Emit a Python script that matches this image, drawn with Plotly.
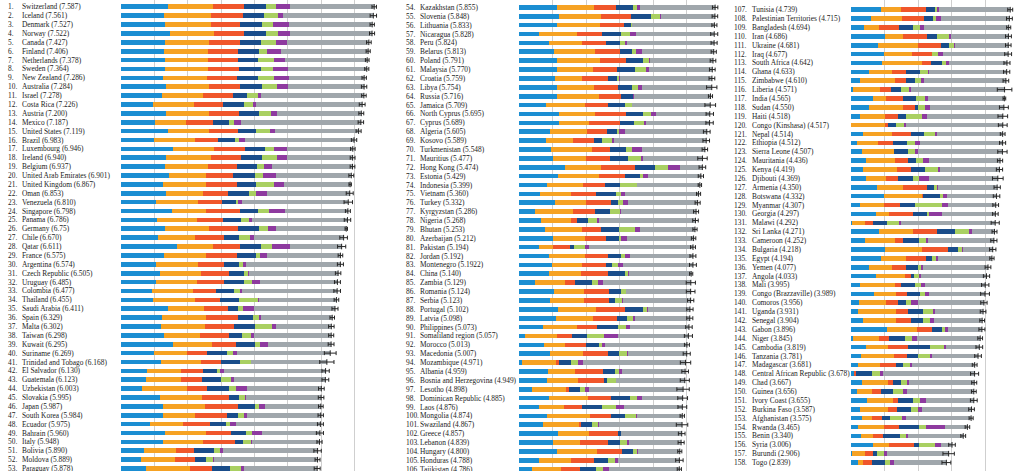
import plotly.graph_objects as go

countries = [
    "Switzerland", "Iceland", "Denmark", "Norway", "Canada", "Finland", "Netherlands", "Sweden", "New Zealand", "Australia",
    "Israel", "Costa Rica", "Austria", "Mexico", "United States", "Brazil", "Luxembourg", "Ireland", "Belgium", "United Arab Emirates",
    "United Kingdom", "Oman", "Venezuela", "Singapore", "Panama", "Germany", "Chile", "Qatar", "France", "Argentina",
    "Czech Republic", "Uruguay", "Colombia", "Thailand", "Saudi Arabia", "Spain", "Malta", "Taiwan", "Kuwait", "Suriname",
    "Trinidad and Tobago", "El Salvador", "Guatemala", "Uzbekistan", "Slovakia", "Japan", "South Korea", "Ecuador", "Bahrain", "Italy",
    "Bolivia", "Moldova", "Paraguay",
    "Kazakhstan", "Slovenia", "Lithuania", "Nicaragua", "Peru", "Belarus", "Poland", "Malaysia", "Croatia", "Libya",
    "Russia", "Jamaica", "North Cyprus", "Cyprus", "Algeria", "Kosovo", "Turkmenistan", "Mauritius", "Hong Kong", "Estonia",
    "Indonesia", "Vietnam", "Turkey", "Kyrgyzstan", "Nigeria", "Bhutan", "Azerbaijan", "Pakistan", "Jordan", "Montenegro",
    "China", "Zambia", "Romania", "Serbia", "Portugal", "Latvia", "Philippines", "Somaliland region", "Morocco", "Macedonia",
    "Mozambique", "Albania", "Bosnia and Herzegovina", "Lesotho", "Dominican Republic", "Laos", "Mongolia", "Swaziland", "Greece", "Lebanon",
    "Hungary", "Honduras", "Tajikistan",
    "Tunisia", "Palestinian Territories", "Bangladesh", "Iran", "Ukraine", "Iraq", "South Africa", "Ghana", "Zimbabwe", "Liberia",
    "India", "Sudan", "Haiti", "Congo (Kinshasa)", "Nepal", "Ethiopia", "Sierra Leone", "Mauritania", "Kenya", "Djibouti",
    "Armenia", "Botswana", "Myanmar", "Georgia", "Malawi", "Sri Lanka", "Cameroon", "Bulgaria", "Egypt", "Yemen",
    "Angola", "Mali", "Congo (Brazzaville)", "Comoros", "Uganda", "Senegal", "Gabon", "Niger", "Cambodia", "Tanzania",
    "Madagascar", "Central African Republic", "Chad", "Guinea", "Ivory Coast", "Burkina Faso", "Afghanistan", "Rwanda", "Benin", "Syria",
    "Burundi", "Togo",
]

score_labels = [
    "7.587", "7.561", "7.527", "7.522", "7.427", "7.406", "7.378", "7.364", "7.286", "7.284",
    "7.278", "7.226", "7.200", "7.187", "7.119", "6.983", "6.946", "6.940", "6.937", "6.901",
    "6.867", "6.853", "6.810", "6.798", "6.786", "6.75", "6.670", "6.611", "6.575", "6.574",
    "6.505", "6.485", "6.477", "6.455", "6.411", "6.329", "6.302", "6.298", "6.295", "6.269",
    "6.168", "6.130", "6.123", "6.003", "5.995", "5.987", "5.984", "5.975", "5.960", "5.948",
    "5.890", "5.889", "5.878",
    "5.855", "5.848", "5.833", "5.828", "5.824", "5.813", "5.791", "5.770", "5.759", "5.754",
    "5.716", "5.709", "5.695", "5.689", "5.605", "5.589", "5.548", "5.477", "5.474", "5.429",
    "5.399", "5.360", "5.332", "5.286", "5.268", "5.253", "5.212", "5.194", "5.192", "5.1922",
    "5.140", "5.129", "5.124", "5.123", "5.102", "5.098", "5.073", "5.057", "5.013", "5.007",
    "4.971", "4.959", "4.949", "4.898", "4.885", "4.876", "4.874", "4.867", "4.857", "4.839",
    "4.800", "4.788", "4.786",
    "4.739", "4.715", "4.694", "4.686", "4.681", "4.677", "4.642", "4.633", "4.610", "4.571",
    "4.565", "4.550", "4.518", "4.517", "4.514", "4.512", "4.507", "4.436", "4.419", "4.369",
    "4.350", "4.332", "4.307", "4.297", "4.292", "4.271", "4.252", "4.218", "4.194", "4.077",
    "4.033", "3.995", "3.989", "3.956", "3.931", "3.904", "3.896", "3.845", "3.819", "3.781",
    "3.681", "3.678", "3.667", "3.656", "3.655", "3.587", "3.575", "3.465", "3.340", "3.006",
    "2.906", "2.839",
]

gdp = [
    1.39651, 1.30232, 1.32548, 1.45900, 1.32629, 1.29025, 1.32944, 1.33171, 1.25018, 1.33358,
    1.22857, 0.95578, 1.33723, 1.02054, 1.39451, 0.98124, 1.56391, 1.33596, 1.30782, 1.42727,
    1.26637, 1.36011, 1.04424, 1.52186, 1.06353, 1.32792, 1.10715, 1.69042, 1.27778, 1.05351,
    1.17898, 1.06166, 0.91861, 0.96690, 1.39541, 1.23011, 1.20740, 1.29098, 1.55422, 0.99534,
    1.21183, 0.76454, 0.74553, 0.63244, 1.16891, 1.27074, 1.24461, 0.86402, 1.32376, 1.25114,
    0.68133, 0.59448, 0.75985,
    1.12254, 1.18498, 1.14723, 0.59325, 0.90019, 1.03192, 1.12555, 1.12486, 1.08254, 1.13145,
    1.13764, 0.81038, 1.20806, 1.20813, 0.93929, 0.80148, 0.95847, 1.00761, 1.38604, 1.15174,
    0.82827, 0.63216, 1.06098, 0.47428, 0.65435, 0.77042, 1.02389, 0.59543, 0.90198, 0.97438,
    0.89012, 0.47038, 1.04345, 0.92053, 1.15991, 1.11312, 0.70532, 0.18847, 0.73479, 0.91851,
    0.08308, 0.87867, 0.83223, 0.37545, 0.89537, 0.59066, 0.82819, 0.71206, 1.15406, 1.02564,
    1.12094, 0.59532, 0.39047,
    0.88113, 0.59867, 0.39753, 1.00761, 0.79907, 0.98549, 0.92049, 0.54558, 0.27100, 0.07120,
    0.64499, 0.52107, 0.26673, 0.00000, 0.35997, 0.19073, 0.33024, 0.45407, 0.36471, 0.44025,
    0.76821, 0.99355, 0.27108, 0.74190, 0.01604, 0.83524, 0.42250, 1.01216, 0.88180, 0.54649,
    0.75778, 0.26074, 0.67866, 0.23906, 0.21102, 0.36498, 1.06024, 0.06940, 0.46038, 0.28520,
    0.20824, 0.07850, 0.34193, 0.17417, 0.46534, 0.25812, 0.31982, 0.22208, 0.28665, 0.66320,
    0.01530, 0.20868,
]

social_support = [
    1.34951, 1.40223, 1.36058, 1.33095, 1.32261, 1.31826, 1.28017, 1.28907, 1.31967, 1.30923,
    1.22393, 1.23788, 1.29704, 0.91451, 1.24711, 1.23287, 1.21963, 1.36948, 1.28566, 1.12575,
    1.28548, 1.08182, 1.25596, 1.02000, 1.19850, 1.29937, 1.12447, 1.07860, 1.26038, 1.24823,
    1.20643, 1.20890, 1.24018, 1.26504, 1.08393, 1.31379, 1.30203, 1.07617, 1.16594, 0.97200,
    1.18354, 1.02507, 1.04356, 1.34043, 1.26999, 1.25712, 0.95774, 0.99903, 1.21624, 1.19777,
    0.97841, 1.01528, 1.30477,
    1.12241, 1.27385, 1.25745, 1.14184, 0.97459, 1.23289, 1.27948, 1.07023, 0.79624, 1.11862,
    1.23617, 1.15102, 1.07008, 0.89318, 1.07772, 0.81198, 1.22668, 0.98521, 1.05818, 1.22791,
    1.08708, 0.91226, 0.94632, 1.15115, 0.90432, 1.10395, 0.93793, 0.41411, 1.05392, 0.90557,
    0.94675, 0.91612, 0.88588, 1.00964, 1.13935, 1.09562, 1.03516, 0.95152, 0.64095, 1.00232,
    1.02626, 0.80434, 0.91916, 1.04103, 1.17202, 0.73803, 1.30060, 1.07284, 0.92933, 0.80001,
    1.20215, 0.95348, 0.85563,
    0.60429, 0.92558, 0.43106, 0.54447, 1.20278, 0.81889, 1.18468, 0.67954, 1.03276, 0.78968,
    0.38174, 1.01404, 0.74302, 1.00120, 0.86449, 0.60406, 0.95571, 0.86908, 0.99876, 0.59207,
    0.77711, 1.10464, 0.70905, 0.38562, 0.41134, 1.01905, 0.88767, 1.10614, 0.74700, 0.68093,
    0.86040, 1.03526, 0.66290, 0.79273, 1.13299, 0.97619, 0.90528, 0.77265, 0.62736, 1.00268,
    0.66801, 0.00000, 0.76062, 0.46475, 0.77115, 0.85188, 0.30285, 0.77370, 0.35386, 0.47489,
    0.41587, 0.13995,
]

life_expectancy = [
    0.94143, 0.94784, 0.87464, 0.88521, 0.90563, 0.88911, 0.89284, 0.91087, 0.90837, 0.93156,
    0.91387, 0.86027, 0.89042, 0.81444, 0.86179, 0.69702, 0.91894, 0.89533, 0.89667, 0.80925,
    0.90943, 0.76276, 0.72052, 1.02525, 0.79661, 0.89186, 0.85857, 0.79733, 0.94579, 0.78723,
    0.84483, 0.81160, 0.69077, 0.73850, 0.72025, 0.95562, 0.88721, 0.87530, 0.72492, 0.60820,
    0.61483, 0.67737, 0.64425, 0.59772, 0.78902, 0.99111, 0.96538, 0.79075, 0.74716, 0.95446,
    0.53920, 0.61826, 0.66098,
    0.64368, 0.87337, 0.73128, 0.74314, 0.73017, 0.73608, 0.77903, 0.72394, 0.78805, 0.70380,
    0.66926, 0.68741, 0.92356, 0.92356, 0.61766, 0.63132, 0.53886, 0.70950, 1.01328, 0.77361,
    0.63793, 0.74676, 0.73172, 0.65088, 0.16007, 0.57407, 0.64045, 0.51466, 0.69639, 0.72521,
    0.81658, 0.29924, 0.76890, 0.74836, 0.87519, 0.72437, 0.58114, 0.43873, 0.60954, 0.73545,
    0.09131, 0.81325, 0.79081, 0.07612, 0.66825, 0.54909, 0.60268, 0.07566, 0.88213, 0.83947,
    0.75905, 0.69510, 0.57379,
    0.73793, 0.66015, 0.60164, 0.69805, 0.67390, 0.60237, 0.27688, 0.40132, 0.33475, 0.34201,
    0.51529, 0.36878, 0.38847, 0.09806, 0.56874, 0.44055, 0.00000, 0.35874, 0.41435, 0.36291,
    0.72990, 0.04776, 0.48246, 0.72926, 0.22562, 0.70806, 0.23402, 0.76649, 0.61712, 0.40064,
    0.16683, 0.20583, 0.31051, 0.36315, 0.33861, 0.43540, 0.43372, 0.29707, 0.61114, 0.38215,
    0.46721, 0.06699, 0.15010, 0.24009, 0.15185, 0.27125, 0.30335, 0.42864, 0.31910, 0.72193,
    0.22396, 0.28443,
]

freedom = [
    0.66557, 0.62877, 0.64938, 0.66973, 0.63297, 0.64169, 0.61576, 0.65980, 0.63938, 0.65124,
    0.41319, 0.63376, 0.62433, 0.48181, 0.54604, 0.49049, 0.61583, 0.61777, 0.58450, 0.64157,
    0.59625, 0.63274, 0.42908, 0.54252, 0.54210, 0.61477, 0.44132, 0.64040, 0.55011, 0.44974,
    0.46364, 0.60362, 0.53466, 0.55664, 0.31048, 0.45951, 0.60365, 0.39740, 0.55499, 0.59657,
    0.55884, 0.40350, 0.57733, 0.65821, 0.31751, 0.49615, 0.33208, 0.48574, 0.45492, 0.26236,
    0.57414, 0.32818, 0.53899,
    0.51649, 0.60855, 0.21342, 0.55475, 0.41496, 0.37938, 0.53122, 0.53024, 0.25883, 0.41668,
    0.36679, 0.50442, 0.49027, 0.40672, 0.28579, 0.24749, 0.47610, 0.56066, 0.59608, 0.44888,
    0.46611, 0.59444, 0.22815, 0.43477, 0.34334, 0.53206, 0.37030, 0.12102, 0.40661, 0.18260,
    0.51697, 0.48827, 0.35068, 0.20107, 0.51469, 0.29671, 0.62545, 0.46582, 0.41691, 0.33457,
    0.34037, 0.35733, 0.09245, 0.31767, 0.57672, 0.59591, 0.43626, 0.30658, 0.07699, 0.33916,
    0.32112, 0.40148, 0.47216,
    0.26268, 0.24499, 0.40820, 0.30033, 0.25123, 0.00000, 0.33207, 0.42342, 0.25861, 0.28531,
    0.39786, 0.10081, 0.24425, 0.22605, 0.38282, 0.43450, 0.40840, 0.24232, 0.42215, 0.46074,
    0.19847, 0.49495, 0.44017, 0.40577, 0.43054, 0.53726, 0.49309, 0.30587, 0.17288, 0.35571,
    0.10384, 0.38857, 0.41466, 0.22917, 0.45727, 0.36772, 0.31914, 0.47692, 0.66246, 0.32878,
    0.19184, 0.48879, 0.23501, 0.37725, 0.46866, 0.39493, 0.23414, 0.59201, 0.48450, 0.15684,
    0.11850, 0.36453,
]

generosity = [
    0.29678, 0.43630, 0.34139, 0.34699, 0.45811, 0.23351, 0.47610, 0.36262, 0.47501, 0.43562,
    0.33172, 0.25497, 0.33088, 0.14074, 0.40105, 0.14574, 0.28034, 0.45901, 0.22250, 0.26428,
    0.51912, 0.21542, 0.05841, 0.31105, 0.24434, 0.28214, 0.33363, 0.32573, 0.12332, 0.11451,
    0.10686, 0.23553, 0.18401, 0.57630, 0.13706, 0.18227, 0.51752, 0.25376, 0.16228, 0.16991,
    0.31844, 0.10692, 0.27489, 0.22837, 0.16893, 0.10705, 0.18557, 0.11541, 0.17362, 0.22823,
    0.20536, 0.20951, 0.34200,
    0.11827, 0.25328, 0.02641, 0.27815, 0.14982, 0.11046, 0.16759, 0.33075, 0.05444, 0.18295,
    0.00199, 0.21123, 0.26169, 0.30638, 0.07822, 0.28310, 0.16979, 0.37744, 0.39478, 0.08680,
    0.51535, 0.16860, 0.12253, 0.30030, 0.27233, 0.47998, 0.07799, 0.33671, 0.11053, 0.16140,
    0.08185, 0.19591, 0.13748, 0.19231, 0.13719, 0.18226, 0.24991, 0.50318, 0.07172, 0.22359,
    0.22269, 0.14272, 0.24808, 0.16388, 0.21684, 0.42192, 0.33230, 0.18259, 0.00000, 0.21854,
    0.12800, 0.23027, 0.22974,
    0.06431, 0.11251, 0.21222, 0.38086, 0.15275, 0.17922, 0.11973, 0.23087, 0.18987, 0.24362,
    0.26475, 0.19062, 0.46187, 0.24834, 0.32296, 0.24325, 0.21488, 0.21900, 0.37542, 0.18093,
    0.07855, 0.10461, 0.79588, 0.05547, 0.33128, 0.40828, 0.20618, 0.11921, 0.11291, 0.09131,
    0.12344, 0.18798, 0.12388, 0.17441, 0.29066, 0.20843, 0.06822, 0.19387, 0.40359, 0.34377,
    0.21333, 0.23835, 0.18386, 0.28657, 0.20165, 0.21747, 0.36510, 0.22628, 0.18260, 0.47179,
    0.19727, 0.16681,
]

corruption = [
    0.41978, 0.14145, 0.48357, 0.36503, 0.32957, 0.41372, 0.31814, 0.43844, 0.42922, 0.35637,
    0.07785, 0.10583, 0.18676, 0.21312, 0.15890, 0.17521, 0.37798, 0.28703, 0.22540, 0.38583,
    0.32067, 0.32524, 0.11069, 0.49210, 0.09270, 0.21843, 0.12869, 0.52208, 0.20646, 0.08484,
    0.02652, 0.24558, 0.05120, 0.03187, 0.32524, 0.06398, 0.13586, 0.08129, 0.25609, 0.13633,
    0.01140, 0.11776, 0.09472, 0.30826, 0.03431, 0.18060, 0.07857, 0.17997, 0.30600, 0.02901,
    0.08800, 0.01615, 0.08242,
    0.08454, 0.03787, 0.01031, 0.19317, 0.05989, 0.19090, 0.04212, 0.10501, 0.02430, 0.11023,
    0.03005, 0.02299, 0.14280, 0.06146, 0.17383, 0.04741, 0.30844, 0.07521, 0.37124, 0.15184,
    0.00000, 0.10441, 0.15746, 0.04232, 0.04030, 0.15445, 0.16065, 0.10464, 0.14293, 0.14296,
    0.02781, 0.12468, 0.00649, 0.02617, 0.01078, 0.06332, 0.12279, 0.39928, 0.08546, 0.05327,
    0.15603, 0.06413, 0.00227, 0.12504, 0.14234, 0.24249, 0.02666, 0.03060, 0.01397, 0.04582,
    0.02758, 0.06825, 0.15072,
    0.06358, 0.12905, 0.12569, 0.05863, 0.02961, 0.13788, 0.08884, 0.04355, 0.08079, 0.06232,
    0.08492, 0.14660, 0.17175, 0.07625, 0.05907, 0.15048, 0.08786, 0.17461, 0.05839, 0.28105,
    0.03900, 0.12474, 0.19034, 0.38331, 0.06977, 0.09179, 0.05786, 0.00872, 0.06324, 0.07854,
    0.07122, 0.12352, 0.11686, 0.19900, 0.07267, 0.10713, 0.11091, 0.15639, 0.07247, 0.05747,
    0.08124, 0.08289, 0.05269, 0.12139, 0.17922, 0.12832, 0.09719, 0.55191, 0.08010, 0.18906,
    0.10062, 0.10731,
]

dystopia_residual = [
    2.51738, 2.70201, 2.49204, 2.46531, 2.45176, 2.61955, 2.46570, 2.37119, 2.26425, 2.26646,
    3.08854, 3.17728, 2.53320, 3.60214, 2.51011, 3.26001, 1.96961, 1.97570, 2.41484, 2.24743,
    1.96994, 2.47489, 3.19131, 1.88501, 2.84848, 2.11569, 2.67585, 1.55674, 2.21126, 2.83600,
    2.67782, 2.31945, 2.85737, 2.31694, 2.43872, 2.12367, 1.64880, 2.32323, 1.87634, 2.79094,
    2.26882, 3.03428, 2.74255, 2.23741, 2.24639, 1.68435, 2.21978, 2.53942, 1.73797, 2.02518,
    2.82334, 3.10712, 2.18896,
    2.24729, 1.61583, 2.44649, 2.32407, 2.59450, 2.12910, 1.86565, 1.88541, 2.75414, 2.09066,
    2.27394, 2.32038, 1.59888, 1.88931, 2.43209, 2.76579, 1.86984, 1.76145, 0.65429, 1.58782,
    1.86399, 2.20173, 2.08528, 2.23270, 2.89319, 1.63794, 2.00073, 3.10709, 1.87996, 2.10017,
    1.86040, 2.63430, 1.93129, 2.02500, 1.26462, 1.62215, 1.75393, 2.11032, 2.45373, 1.73933,
    3.05137, 1.89894, 2.06367, 2.79832, 1.21305, 1.73799, 1.34759, 2.48676, 1.80101, 1.57036,
    1.24074, 1.84408, 2.11399,
    2.12466, 2.04480, 2.51767, 1.69673, 1.57140, 1.95335, 1.71956, 2.30919, 2.44191, 2.77729,
    2.27513, 2.20857, 2.24173, 2.86712, 1.95637, 2.44876, 2.51009, 2.11764, 1.78555, 2.05125,
    1.75873, 1.46181, 1.41805, 1.59541, 2.80791, 0.67108, 1.95068, 0.89991, 1.59927, 1.92313,
    1.94939, 1.79293, 1.68135, 1.95812, 1.42766, 1.44395, 0.99895, 1.87877, 0.98195, 1.38079,
    1.85100, 2.72230, 1.94296, 1.99172, 1.41723, 1.46494, 1.95210, 0.67042, 1.63328, 0.32858,
    1.83302, 1.56726,
]

std_error = [
    0.03411, 0.04884, 0.03328, 0.03880, 0.03553, 0.03140, 0.02799, 0.03157, 0.03371, 0.04083,
    0.03470, 0.04454, 0.03751, 0.04176, 0.03839, 0.04076, 0.03499, 0.03676, 0.03595, 0.03729,
    0.01866, 0.05335, 0.06476, 0.03780, 0.04910, 0.01848, 0.05800, 0.06257, 0.03512, 0.04612,
    0.04168, 0.04539, 0.05051, 0.03557, 0.04633, 0.03468, 0.04206, 0.03868, 0.04456, 0.09014,
    0.10895, 0.05618, 0.05224, 0.04361, 0.04267, 0.03581, 0.04098, 0.04528, 0.05412, 0.03914,
    0.05642, 0.03799, 0.04563,
    0.04114, 0.04251, 0.03843, 0.05371, 0.04615, 0.03938, 0.04263, 0.04330, 0.04394, 0.07832,
    0.03135, 0.08130, 0.05635, 0.05580, 0.05099, 0.05018, 0.04175, 0.07197, 0.05051, 0.04013,
    0.02596, 0.03107, 0.03864, 0.03823, 0.04192, 0.03225, 0.03363, 0.03726, 0.04524, 0.05235,
    0.02424, 0.06988, 0.06607, 0.04864, 0.04802, 0.04640, 0.04934, 0.06161, 0.03780, 0.05376,
    0.07896, 0.05013, 0.06913, 0.09438, 0.07446, 0.06698, 0.03313, 0.08742, 0.05062, 0.04615,
    0.03107, 0.05648, 0.03198,
    0.03760, 0.04394, 0.03077, 0.04449, 0.04220, 0.05232, 0.04585, 0.04742, 0.04290, 0.11068,
    0.02043, 0.06740, 0.07331, 0.06680, 0.03607, 0.04630, 0.07068, 0.03947, 0.04734, 0.08096,
    0.04763, 0.04934, 0.04351, 0.04221, 0.06130, 0.03751, 0.04678, 0.04828, 0.03260, 0.04367,
    0.04758, 0.05602, 0.06682, 0.04797, 0.04317, 0.03608, 0.04547, 0.03602, 0.05069, 0.05061,
    0.03633, 0.06112, 0.03830, 0.03590, 0.05141, 0.04324, 0.03084, 0.03464, 0.03656, 0.05015,
    0.08658, 0.06727,
]

# ---------------- styling / layout ----------------
W, H = 1024, 471
components = [
    (gdp, "#1b8ed2"),
    (social_support, "#f6a223"),
    (life_expectancy, "#f0562b"),
    (freedom, "#1a4d8a"),
    (generosity, "#a9d062"),
    (corruption, "#8e3a9f"),
    (dystopia_residual, "#a0a7ac"),
]
columns = [(0, 53), (53, 106), (106, 158)]
x_px = [(121, 388), (519, 720), (851, 1019)]
x_max = [8, 6, 5]
row0_px = [6.8, 7.4, 9.7]
pitch = 8.88
num_x = [7, 405, 733]
name_x = [20.5, 419, 750.5]
text_font = dict(family="Liberation Serif, serif", size=7.4, color="#222222")
ink = "#262626"

scores = [float(s) for s in score_labels]

fig = go.Figure()
annotations = []
layout_axes = {}
for c, (s, e) in enumerate(columns):
    sfx = "" if c == 0 else str(c + 1)
    xa, ya = "x" + sfx, "y" + sfx
    rows = list(range(e - s))
    for vals, col in components:
        fig.add_trace(go.Bar(
            x=vals[s:e], y=rows, orientation="h", xaxis=xa, yaxis=ya,
            marker=dict(color=col, line=dict(width=0)), width=0.52,
            hoverinfo="skip", showlegend=False,
        ))
    fig.add_trace(go.Scatter(
        x=scores[s:e], y=rows, xaxis=xa, yaxis=ya, mode="markers",
        marker=dict(symbol="line-ns-open", size=4, color=ink, line=dict(width=1, color=ink)),
        error_x=dict(type="data", array=[1.96 * v for v in std_error[s:e]],
                     color=ink, thickness=1, width=2),
        hoverinfo="skip", showlegend=False,
    ))
    top = -row0_px[c] / pitch
    bottom = top + H / pitch
    layout_axes["xaxis" + sfx] = dict(
        domain=[x_px[c][0] / W, x_px[c][1] / W], range=[0, x_max[c]], anchor=ya,
        tickvals=list(range(1, x_max[c] + 1)), showticklabels=False, ticks="",
        showgrid=True, gridcolor="#cfcfcf", gridwidth=1, zeroline=False, showline=False,
        fixedrange=True,
    )
    layout_axes["yaxis" + sfx] = dict(
        domain=[0, 1], range=[bottom, top], anchor=xa, showticklabels=False,
        showgrid=False, zeroline=False, showline=False, ticks="", fixedrange=True,
    )
    for i, r in enumerate(rows):
        idx = s + i
        annotations.append(dict(
            x=num_x[c] / W, xref="paper", y=r, yref=ya, xanchor="left", yanchor="middle",
            text=f"{idx + 1}.", showarrow=False, font=text_font, borderpad=0,
        ))
        annotations.append(dict(
            x=name_x[c] / W, xref="paper", y=r, yref=ya, xanchor="left", yanchor="middle",
            text=f"{countries[idx]} ({score_labels[idx]})", showarrow=False,
            font=text_font, borderpad=0,
        ))

fig.update_layout(
    width=W, height=H, margin=dict(l=0, r=0, t=0, b=0),
    barmode="stack", bargap=0, showlegend=False,
    plot_bgcolor="white", paper_bgcolor="white",
    annotations=annotations, **layout_axes,
)

fig.write_html(
    "out.html",
    config={"displayModeBar": False, "staticPlot": True},
    post_script="document.body.style.margin='0';document.body.style.overflow='hidden';",
)
